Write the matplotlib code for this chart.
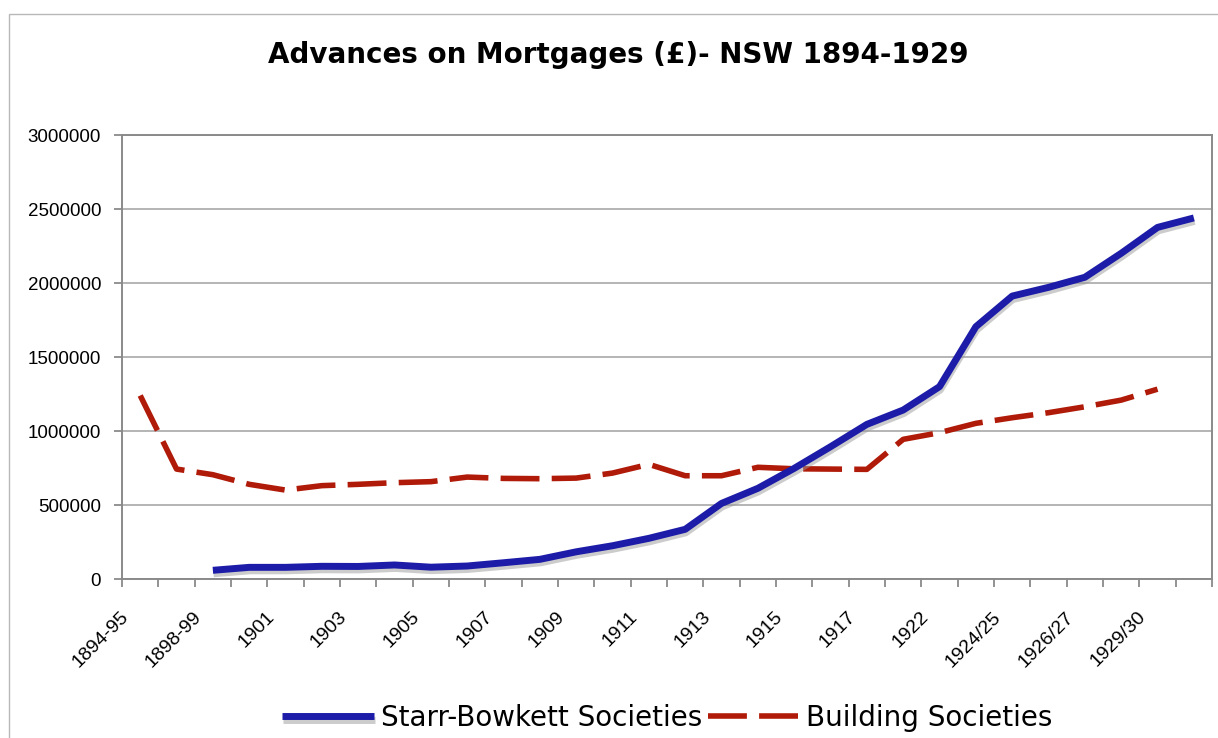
import numpy as np
import matplotlib
matplotlib.use("Agg")
import matplotlib.pyplot as plt
import matplotlib.patheffects as pe
import matplotlib.transforms as mtransforms
from matplotlib.patches import Rectangle

# categories (only every second one is labelled on the axis)
periods = ["1894-95", "1896-97", "1898-99", "1900", "1901", "1902", "1903", "1904",
           "1905", "1906", "1907", "1908", "1909", "1910", "1911", "1912", "1913",
           "1914", "1915", "1916", "1917", "1920", "1922", "1923", "1924/25",
           "1925/26", "1926/27", "1927/28", "1929/30", "1930/31"]

# None = no value for that period
starr_bowkett = [None, None, 59000, 79000, 79000, 86000, 85000, 95000, 80000, 88000,
                 110000, 133000, 184000, 225000, 275000, 336000, 511000, 613000,
                 748000, 894000, 1045000, 1142000, 1300000, 1705000, 1912000,
                 1971000, 2039000, 2201000, 2376000, 2440000]
building = [1240000, 743000, 705000, 640000, 601000, 631000, 640000, 651000, 658000,
            689000, 680000, 678000, 682000, 716000, 775000, 698000, 698000, 755000,
            745000, 743000, 741000, 944000, 989000, 1052000, 1090000, 1124000,
            1164000, 1209000, 1283000, None]

y_ticks = [0, 500000, 1000000, 1500000, 2000000, 2500000, 3000000]


def to_arr(vals):
    return np.array([np.nan if v is None else v for v in vals], dtype=float)


x = np.arange(len(periods))

fig = plt.figure(figsize=(12.18, 7.38), dpi=100)
ax = fig.add_axes([0.1002, 0.2154, 0.8949, 0.6016])

# outer chart border
fig.patches.append(Rectangle((9 / 1218, -0.05), 1.2, 1 - 14 / 738 + 0.05,
                             transform=fig.transFigure, fill=False,
                             edgecolor="#b8b8b8", linewidth=1.0))

ax.plot(x, to_arr(starr_bowkett), color="#1c1ca8", linewidth=5.0,
        solid_joinstyle="round", solid_capstyle="butt",
        label="Starr-Bowkett Societies", zorder=4,
        path_effects=[pe.SimpleLineShadow(offset=(0.5, -2.5), shadow_color="#9a9a9a",
                                          alpha=0.5, rho=1.0),
                      pe.Normal()])
ax.plot(x, to_arr(building), color="#b01a08", linewidth=4.0,
        dashes=(7, 2.2), dash_capstyle="butt",
        label="Building Societies", zorder=3)

ax.set_xlim(-0.5, len(periods) - 0.5)
ax.set_ylim(0, 3000000)

ax.set_yticks(y_ticks)
ax.set_yticklabels([str(v) for v in y_ticks], fontsize=13.5, family="Liberation Sans")
ax.yaxis.grid(True, color="#a8a8a8", linewidth=1.2)
ax.set_axisbelow(True)

# tick marks on category boundaries, labels on every second category
ax.set_xticks(np.arange(-0.5, len(periods), 1.0), minor=True)
ax.set_xticks(x[::2])
ax.set_xticklabels(periods[::2], rotation=45, ha="right", rotation_mode="anchor",
                   fontsize=14, family="Liberation Sans")
ax.tick_params(axis="x", which="major", length=0, pad=14)
ax.tick_params(axis="x", which="minor", length=6, color="#808080", width=1.2)
ax.tick_params(axis="y", length=6, color="#808080", width=1.2, pad=9)

# nudge the slanted labels left and down like the original
shift = mtransforms.ScaledTranslation(-20 / 100, -10 / 100, fig.dpi_scale_trans)
for lbl in ax.get_xticklabels():
    lbl.set_transform(lbl.get_transform() + shift)

for s in ax.spines.values():
    s.set_color("#8a8a8a")
    s.set_linewidth(1.4)

fig.text(0.508, 0.925, "Advances on Mortgages (£)- NSW 1894-1929", ha="center",
         va="center", fontsize=20, fontweight="bold", family="DejaVu Sans")

fig.legend(loc="center", bbox_to_anchor=(0.548, 0.027), ncol=2, frameon=False,
           fontsize=20, handlelength=3.3, columnspacing=0.2, handletextpad=0.25,
           borderaxespad=0)

plt.savefig("out.png", dpi=100)
